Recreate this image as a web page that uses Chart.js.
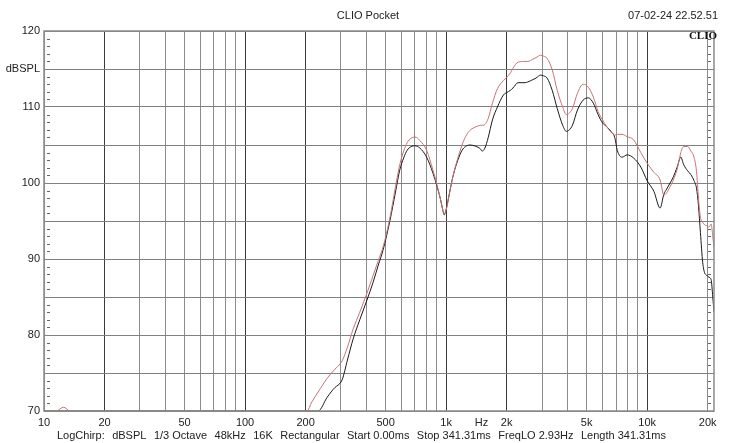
<!DOCTYPE html>
<html><head><meta charset="utf-8">
<script src="https://cdn.jsdelivr.net/npm/chart.js@4/dist/chart.umd.min.js"></script>
<style>html,body{margin:0;padding:0;background:#fff}#wrap{width:729px;height:443px;position:relative}</style>
</head><body><div id="wrap"><canvas id="c" width="729" height="443"></canvas></div>
<script>
const freqs = [10,11.5,12.5,13.5,15,20,50,100,190,203,215,231,256,280,290,304,323,345,372,404,433,460,486,526,560,588,615,640,670,700,740,800,860,900,935,960,978,1000,1040,1080,1130,1200,1250,1310,1380,1440,1480,1510,1560,1620,1700,1800,1930,2000,2090,2150,2280,2470,2550,2700,2800,2950,3050,3180,3370,3570,3800,3960,4100,4250,4500,4800,5100,5400,5700,6000,6300,6600,6900,7100,7500,7950,8550,9300,10000,10800,11600,12100,12500,13000,13500,14100,14700,15200,15900,16500,17100,17600,18000,18400,18900,19300,19700,20300,20800,21200,21500];
const redDb = [70,70,70.5,70,70,70,70,70,70,70,71.2,72.5,74.3,75.5,75.9,76.6,78.4,80.8,83,85.5,87.8,89.8,91.6,95.5,99.5,102.4,104.2,105.3,105.9,106.05,105.6,104.3,101.7,99.8,98,96.6,95.9,96.4,98.7,100.8,102.8,105,106.1,106.9,107.3,107.5,107.6,107.6,107.7,108.5,110.5,112.4,113.5,113.9,114.5,115.1,115.9,116,116,116.3,116.5,116.8,116.7,116.4,114.9,112.2,110,109,109.2,109.8,111.8,113,112.6,111.3,109.4,108.3,107.4,106.7,106.3,106.4,106.4,106.1,105.7,104,102.6,101.4,100.4,98.4,98.7,99.5,100.4,101.8,104,104.8,104.8,104.2,103.4,101.5,98,95.5,94.8,94.5,94.4,94.2,94.6,93,91.5];
const blackDb = [70,70,70,70,70,70,70,70,70,70,70,70,71.8,73.1,73.4,74.1,76.7,79.5,82,84.6,86.9,89.2,91.2,95.1,98.8,101.7,103.3,104.3,104.8,104.9,104.6,103.4,101.3,99.6,98,96.6,95.8,96.5,98.7,100.8,102.6,104.3,104.8,105,104.9,104.7,104.5,104.2,104.6,106,108.3,110,111.6,111.9,112.2,112.5,113.2,113.2,113.3,113.6,113.8,114.2,114.1,113.8,112.2,109.8,107.6,106.8,107,107.6,109.6,110.9,111.2,110.5,109,107.9,107.4,106.8,106,104.3,103.4,103.7,103.3,102.1,100.3,98.9,96.7,98.5,99.2,100,100.8,102.1,103.4,102.4,101.6,101.1,100.3,99.3,97,93.5,89.5,88.2,87.9,87.6,87.3,85,83];
const xGridFreqs = [10,20,30,40,50,60,70,80,90,100,200,300,400,500,600,700,800,900,1000,1500,2000,3000,4000,5000,6000,7000,8000,9000,10000,20000];
const xTickLabels = {10:'10',20:'20',50:'50',100:'100',200:'200',500:'500',1000:'1k',1500:'Hz',2000:'2k',5000:'5k',10000:'10k',20000:'20k'};
const yGridValues = [70,75,80,85,90,95,100,105,110,115,120];
const yTickLabels = {70:'70',80:'80',90:'90',100:'100',110:'110',115:'dBSPL',120:'120'};
const titleText = 'CLIO Pocket';
const dateText = '07-02-24 22.52.51';
const logoText = 'CLIO';
const footerParts = ['LogChirp:', 'dBSPL', '1/3 Octave', '48kHz', '16K', 'Rectangular', 'Start 0.00ms', 'Stop 341.31ms', 'FreqLO 2.93Hz', 'Length 341.31ms'];

const FONT = '"Liberation Sans", Arial, sans-serif';

const decor = {
  id: 'decor',
  beforeDatasetsDraw(chart) {
    const {ctx, chartArea: a, scales: {y}} = chart;
    ctx.save();
    ctx.strokeStyle = '#666';
    ctx.lineWidth = 1;
    for (let v = 70; v <= 120; v++) {
      if (v % 5 === 0) continue;
      const py = Math.round(y.getPixelForValue(v)) + 0.5;
      ctx.beginPath();
      ctx.moveTo(a.left + 3, py); ctx.lineTo(a.left + 6, py);
      ctx.moveTo(a.right - 3, py); ctx.lineTo(a.right - 6, py);
      ctx.stroke();
    }
    ctx.restore();
  },
  afterDraw(chart) {
    const {ctx, chartArea: a} = chart;
    ctx.save();
    ctx.strokeStyle = '#8a8a8a';
    ctx.lineWidth = 1.5;
    ctx.strokeRect(a.left, a.top, a.right - a.left, a.bottom - a.top);
    ctx.fillStyle = '#222';
    ctx.font = '11px ' + FONT;
    ctx.textBaseline = 'middle';
    ctx.textAlign = 'center';
    ctx.fillText(titleText, 368, 16);
    ctx.textAlign = 'right';
    ctx.fillText(dateText, 718, 16);
    // footer, spread between 57 and 666
    ctx.textAlign = 'left';
    const widths = footerParts.map(p => ctx.measureText(p).width);
    const total = widths.reduce((s, w) => s + w, 0);
    const gap = (666 - 57 - total) / (footerParts.length - 1);
    let fx = 57;
    footerParts.forEach((p, i) => { ctx.fillText(p, fx, 436); fx += widths[i] + gap; });
    ctx.font = 'bold 11px "Liberation Serif", serif';
    ctx.textAlign = 'right';
    ctx.fillStyle = '#111';
    ctx.fillText(logoText, 717, 36);
    ctx.restore();
  }
};

new Chart(document.getElementById('c'), {
  type: 'line',
  data: {
    labels: freqs,
    datasets: [
      {label: 'red', data: freqs.map((f, i) => ({x: f, y: redDb[i]})), borderColor: '#c87272', borderWidth: 1, pointRadius: 0, cubicInterpolationMode: 'monotone'},
      {label: 'black', data: freqs.map((f, i) => ({x: f, y: blackDb[i]})), borderColor: '#1a1a1a', borderWidth: 1, pointRadius: 0, cubicInterpolationMode: 'monotone'}
    ]
  },
  options: {
    responsive: false,
    animation: false,
    events: [],
    layout: {padding: {top: 31, right: 15, left: 0, bottom: 0}},
    plugins: {legend: {display: false}, tooltip: {enabled: false}},
    scales: {
      x: {
        type: 'logarithmic', min: 10, max: 21500,
        afterBuildTicks: (ax) => { ax.ticks = xGridFreqs.map(v => ({value: v})); },
        afterFit: (ax) => { ax.height = 32; },
        border: {display: false},
        grid: {
          drawTicks: false,
          lineWidth: 1,
          color: (c) => {
            const v = c.tick && c.tick.value;
            if (v === 1500) return 'rgba(0,0,0,0)';
            if ([20,100,200,1000,2000,10000].includes(v)) return '#3a3a3a';
            return '#8c8c8c';
          }
        },
        ticks: {
          autoSkip: false, maxRotation: 0, padding: 5,
          color: '#222', font: {family: FONT, size: 11},
          callback: function(val, i, ticks) { return xTickLabels[ticks[i].value] ?? ''; }
        }
      },
      y: {
        min: 70, max: 120,
        afterBuildTicks: (ax) => { ax.ticks = yGridValues.map(v => ({value: v})); },
        afterFit: (ax) => { ax.width = 44; },
        border: {display: false},
        grid: {drawTicks: false, lineWidth: 1, color: '#808080'},
        ticks: {
          padding: 4, color: '#222', font: {family: FONT, size: 11},
          callback: function(val, i, ticks) { return yTickLabels[ticks[i].value] ?? ''; }
        }
      }
    }
  },
  plugins: [decor]
});
</script></body></html>
